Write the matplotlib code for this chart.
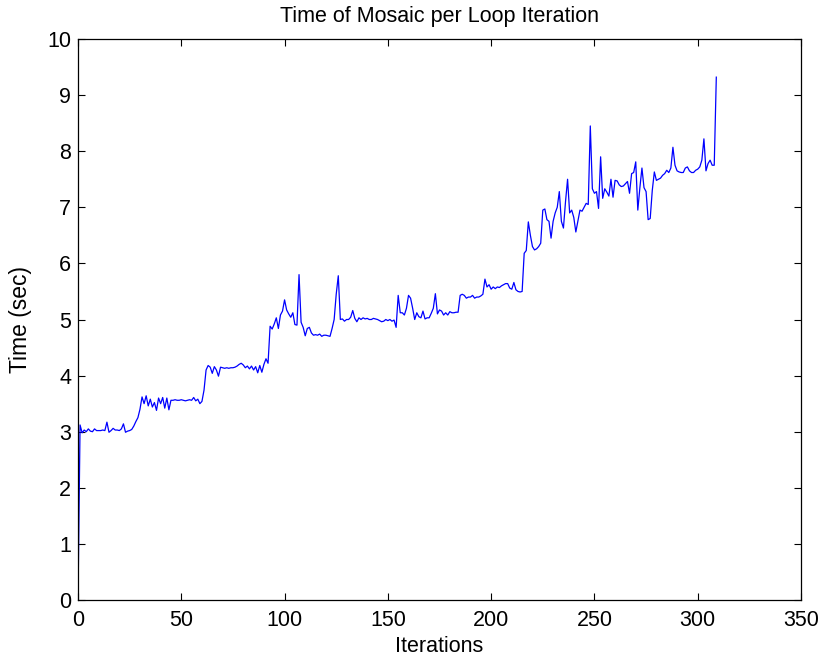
import numpy as np
import matplotlib
matplotlib.use("Agg")
import matplotlib.pyplot as plt

iterations = list(range(0, 310))
times = [
    0.00, 3.12, 2.98, 3.03, 3.00, 3.05, 3.01, 3.00, 3.05, 3.02,
    3.02, 3.02, 3.03, 3.02, 3.17, 2.99, 3.02, 3.06, 3.03, 3.03,
    3.02, 3.05, 3.14, 2.99, 3.01, 3.02, 3.04, 3.10, 3.18, 3.25,
    3.40, 3.62, 3.50, 3.64, 3.46, 3.58, 3.44, 3.52, 3.38, 3.60,
    3.50, 3.61, 3.42, 3.60, 3.39, 3.56, 3.56, 3.57, 3.56, 3.56,
    3.57, 3.56, 3.55, 3.56, 3.57, 3.56, 3.61, 3.55, 3.58, 3.50,
    3.54, 3.74, 4.10, 4.18, 4.15, 4.04, 4.16, 4.10, 3.99, 4.15,
    4.14, 4.13, 4.14, 4.13, 4.14, 4.14, 4.15, 4.17, 4.20, 4.22,
    4.19, 4.14, 4.17, 4.12, 4.17, 4.10, 4.16, 4.05, 4.18, 4.06,
    4.20, 4.30, 4.22, 4.88, 4.83, 4.92, 5.03, 4.84, 5.08, 5.15,
    5.35, 5.17, 5.10, 5.04, 5.12, 4.91, 4.90, 5.80, 4.95, 4.86,
    4.71, 4.84, 4.86, 4.76, 4.72, 4.73, 4.72, 4.74, 4.70, 4.72,
    4.72, 4.71, 4.70, 4.84, 5.00, 5.45, 5.78, 5.00, 5.01, 4.97,
    5.00, 5.00, 5.04, 5.16, 5.02, 4.96, 5.03, 5.00, 5.03, 5.01,
    5.02, 5.00, 5.00, 5.02, 5.01, 5.00, 4.98, 4.96, 4.97, 5.00,
    4.98, 5.00, 4.97, 4.99, 4.86, 5.43, 5.12, 5.12, 5.08, 5.20,
    5.43, 5.38, 5.20, 5.00, 5.12, 5.05, 5.03, 5.15, 5.01, 5.03,
    5.03, 5.11, 5.20, 5.46, 5.10, 5.17, 5.15, 5.08, 5.12, 5.08,
    5.14, 5.12, 5.12, 5.13, 5.13, 5.43, 5.45, 5.43, 5.38, 5.40,
    5.40, 5.43, 5.38, 5.40, 5.40, 5.42, 5.45, 5.72, 5.58, 5.62,
    5.54, 5.58, 5.55, 5.58, 5.57, 5.60, 5.62, 5.64, 5.64, 5.56,
    5.54, 5.66, 5.53, 5.50, 5.49, 5.50, 6.18, 6.23, 6.74, 6.50,
    6.30, 6.24, 6.26, 6.30, 6.36, 6.95, 6.97, 6.78, 6.75, 6.45,
    6.75, 6.90, 7.00, 7.28, 6.75, 6.63, 7.10, 7.50, 6.90, 6.95,
    6.82, 6.56, 6.75, 6.95, 6.93, 7.00, 7.07, 7.05, 8.45, 7.33,
    7.25, 7.28, 6.98, 7.90, 7.16, 7.33, 7.27, 7.20, 7.50, 7.18,
    7.48, 7.47, 7.40, 7.37, 7.38, 7.42, 7.46, 7.25, 7.60, 7.62,
    7.81, 6.95, 7.35, 7.70, 7.35, 7.28, 6.78, 6.80, 7.30, 7.63,
    7.48, 7.50, 7.52, 7.57, 7.60, 7.66, 7.62, 7.70, 8.07, 7.75,
    7.65, 7.63, 7.62, 7.62, 7.70, 7.72, 7.65, 7.62, 7.62, 7.66,
    7.68, 7.72, 7.84, 8.22, 7.65, 7.78, 7.84, 7.75, 7.75, 9.32,
]

x_ticks = [0, 50, 100, 150, 200, 250, 300, 350]
y_ticks = list(range(0, 11))

plt.rcParams['font.family'] = ['Liberation Sans', 'DejaVu Sans']

fig = plt.figure(figsize=(8.2, 6.57), dpi=100)
ax = fig.add_axes([78/820, 57/657, 723/820, 561/657])
ax.plot(iterations, times, color='#0000ff', linewidth=0.9)
ax.set_xlim(0, 350)
ax.set_ylim(0, 10)
ax.set_xticks(x_ticks)
ax.set_yticks(y_ticks)
ax.tick_params(direction='in', top=True, right=True, length=5, width=0.8,
               labelsize=15.5)
ax.tick_params(axis='x', pad=7)
ax.tick_params(axis='y', pad=5)
for s in ax.spines.values():
    s.set_linewidth(0.9)
ax.set_title('Time of Mosaic per Loop Iteration', fontsize=15.5, pad=12)
ax.set_xlabel('Iterations', fontsize=15.5, labelpad=4)
ax.set_ylabel('Time (sec)', fontsize=16.5, labelpad=11)

fig.savefig('out.png', dpi=100)
